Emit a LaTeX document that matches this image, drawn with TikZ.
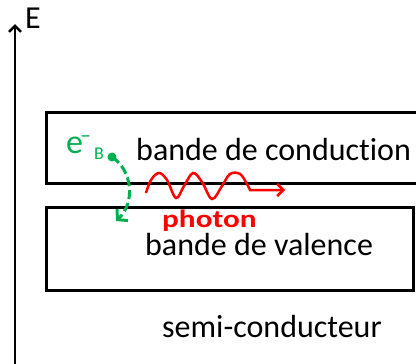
\documentclass[tikz,border=0pt]{standalone}
\usepackage{fontspec}
\setmainfont{Carlito}[Ligatures=NoCommon]
\usetikzlibrary{arrows.meta}
\definecolor{egreen}{HTML}{00B050}
\definecolor{phred}{HTML}{FF0000}

\begin{document}
\begin{tikzpicture}[x=1pt,y=-1pt,>={Straight Barb[length=6pt,width=12pt]},
  band/.style={draw,line width=3pt,inner sep=0pt},
  lbl/.style={font=\fontsize{32}{38}\selectfont,inner sep=0pt,anchor=base west}]
  \useasboundingbox (0,0) rectangle (416,364);
  % energy axis
  \coordinate (ebot) at (15,368);
  \coordinate (etop) at (15,24);
  \draw[->,line width=2.5pt] (ebot) -- (etop);
  \node[lbl] (E) at (25,28) {E};
  % bands
  \node[band,minimum width=378pt,minimum height=71pt] (cb) at (235,147.5) {};
  \node[band,minimum width=367pt,minimum height=83pt] (vb) at (229.5,248.5) {};
  \node[lbl] (cbtxt) at (136,160) {bande de conduction};
  \node[lbl] (vbtxt) at (145,255) {bande de valence};
  \node[lbl] (sc) at (162,337) {semi-conducteur};
  % electron falling to the valence band
  \node[lbl,font=\fontsize{34}{38}\selectfont,text=egreen] (eB) at (66,153)
    {e\kern-3pt\raisebox{11pt}{\fontsize{22}{24}\selectfont –}\kern3pt%
     \raisebox{-6pt}{\fontsize{18}{20}\selectfont B}};
  \node[circle,fill=egreen,inner sep=0pt,minimum size=9pt] (el) at (112,157) {};
  \coordinate (eldown) at (116,221);
  \draw[egreen,line width=3pt,dash pattern=on 9pt off 4pt,
    -{Straight Barb[length=7pt,width=16pt]}]
    (el.center) .. controls (132,170) and (136,202) .. (eldown);
  % emitted photon
  \draw[phred,line width=2.5pt,->] plot[smooth,tension=0.6] coordinates {
    (146,193) (151,180) (159,173) (167,180) (176,198) (184,186) (193,173)
    (202,182) (212,199) (222,186) (230,174) (240,174) (247,184) (250,190)}
    -- (285,190) coordinate (phend);
  \node[lbl,font=\bfseries\fontsize{25}{30}\selectfont,text=phred] (ph) at (162,227)
    {\scalebox{1.25}[1]{photon}};
\end{tikzpicture}
\end{document}
